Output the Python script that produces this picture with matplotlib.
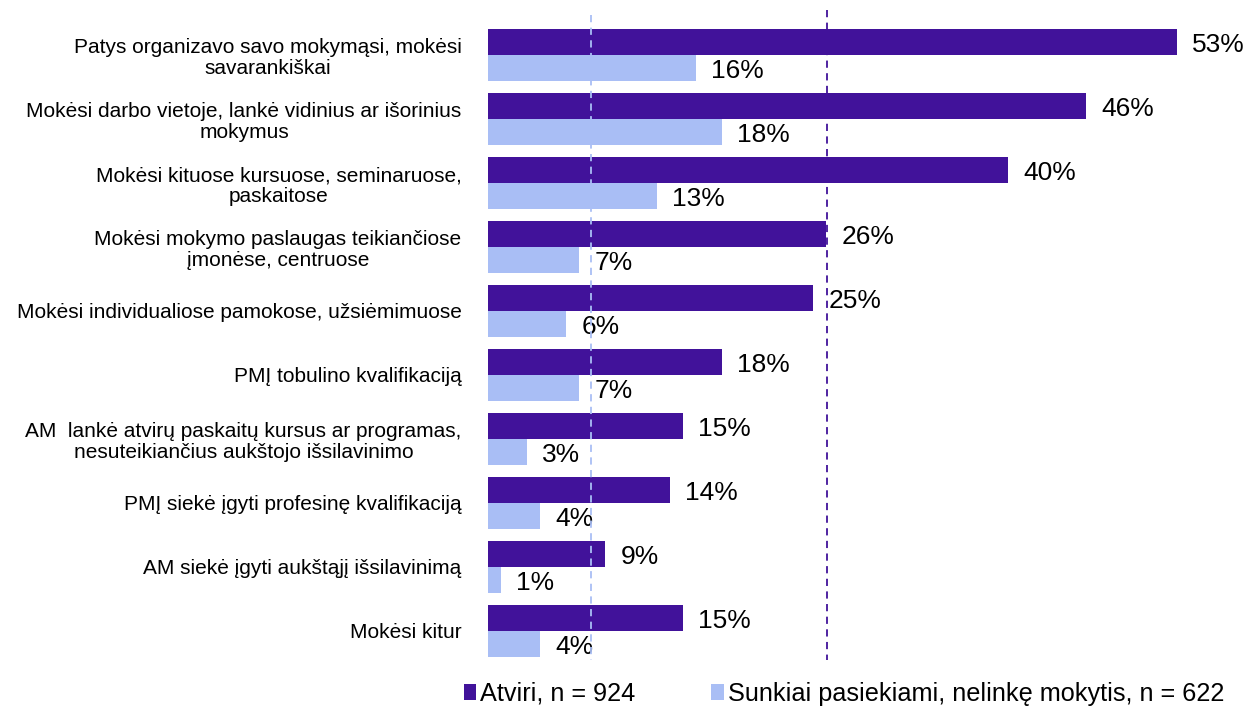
import matplotlib
matplotlib.use("Agg")
import matplotlib.pyplot as plt
import numpy as np

plt.rcParams['font.family'] = ['Liberation Sans', 'DejaVu Sans']

categories = [
    "Patys organizavo savo mokymąsi, mokėsi\nsavarankiškai",
    "Mokėsi darbo vietoje, lankė vidinius ar išorinius\nmokymus",
    "Mokėsi kituose kursuose, seminaruose,\npaskaitose",
    "Mokėsi mokymo paslaugas teikiančiose\nįmonėse, centruose",
    "Mokėsi individualiose pamokose, užsiėmimuose",
    "PMĮ tobulino kvalifikaciją",
    "AM  lankė atvirų paskaitų kursus ar programas,\nnesuteikiančius aukštojo išsilavinimo",
    "PMĮ siekė įgyti profesinę kvalifikaciją",
    "AM siekė įgyti aukštąjį išsilavinimą",
    "Mokėsi kitur",
]
atviri = [53, 46, 40, 26, 25, 18, 15, 14, 9, 15]
sunkiai = [16, 18, 13, 7, 6, 7, 3, 4, 1, 4]
series_names = ["Atviri, n = 924", "Sunkiai pasiekiami, nelinkę mokytis, n = 622"]

dark = '#41129A'
light = '#A9BEF5'

fig = plt.figure(figsize=(12.5, 7.06), dpi=100)
ax = fig.add_axes([488/1250, 1 - 665/706, 754/1250, 660/706])

y = np.arange(len(categories))
h = 26/64
b1 = ax.barh(y - h/2, atviri, height=h, color=dark, label=series_names[0])
b2 = ax.barh(y + h/2, sunkiai, height=h, color=light, label=series_names[1])

for bars, vals in ((b1, atviri), (b2, sunkiai)):
    for r, v in zip(bars, vals):
        ax.annotate(f"{v}%", (r.get_width(), r.get_y() + r.get_height()/2),
                    xytext=(11, -2.5), textcoords='offset points',
                    va='center', ha='left', fontsize=19, color='black')

m1 = np.mean(atviri)
m2 = np.mean(sunkiai)
ax.vlines(m1, -0.70, 9.45, colors=dark, linestyles=(0, (4, 3)), linewidth=1.3, zorder=3)
ax.vlines(m2, -0.62, 9.45, colors=light, linestyles=(0, (4, 3)), linewidth=1.3, zorder=3)

ax.set_xlim(0, 58)
ax.set_ylim(610/64, -50/64)
ax.set_yticks(y)
ax.set_yticklabels(categories, fontsize=15, multialignment='center', linespacing=1.15)
ax.tick_params(axis='y', length=0, pad=19)
ax.set_xticks([])
for s in ax.spines.values():
    s.set_visible(False)

leg = fig.legend(handles=[b1, b2], loc='center', bbox_to_anchor=(844/1250, 1 - 694/706),
                 ncol=2, frameon=False, fontsize=18.2, handlelength=0.5, handleheight=0.6,
                 handletextpad=0.15, columnspacing=3.0)

fig.savefig("out.png", dpi=100)
